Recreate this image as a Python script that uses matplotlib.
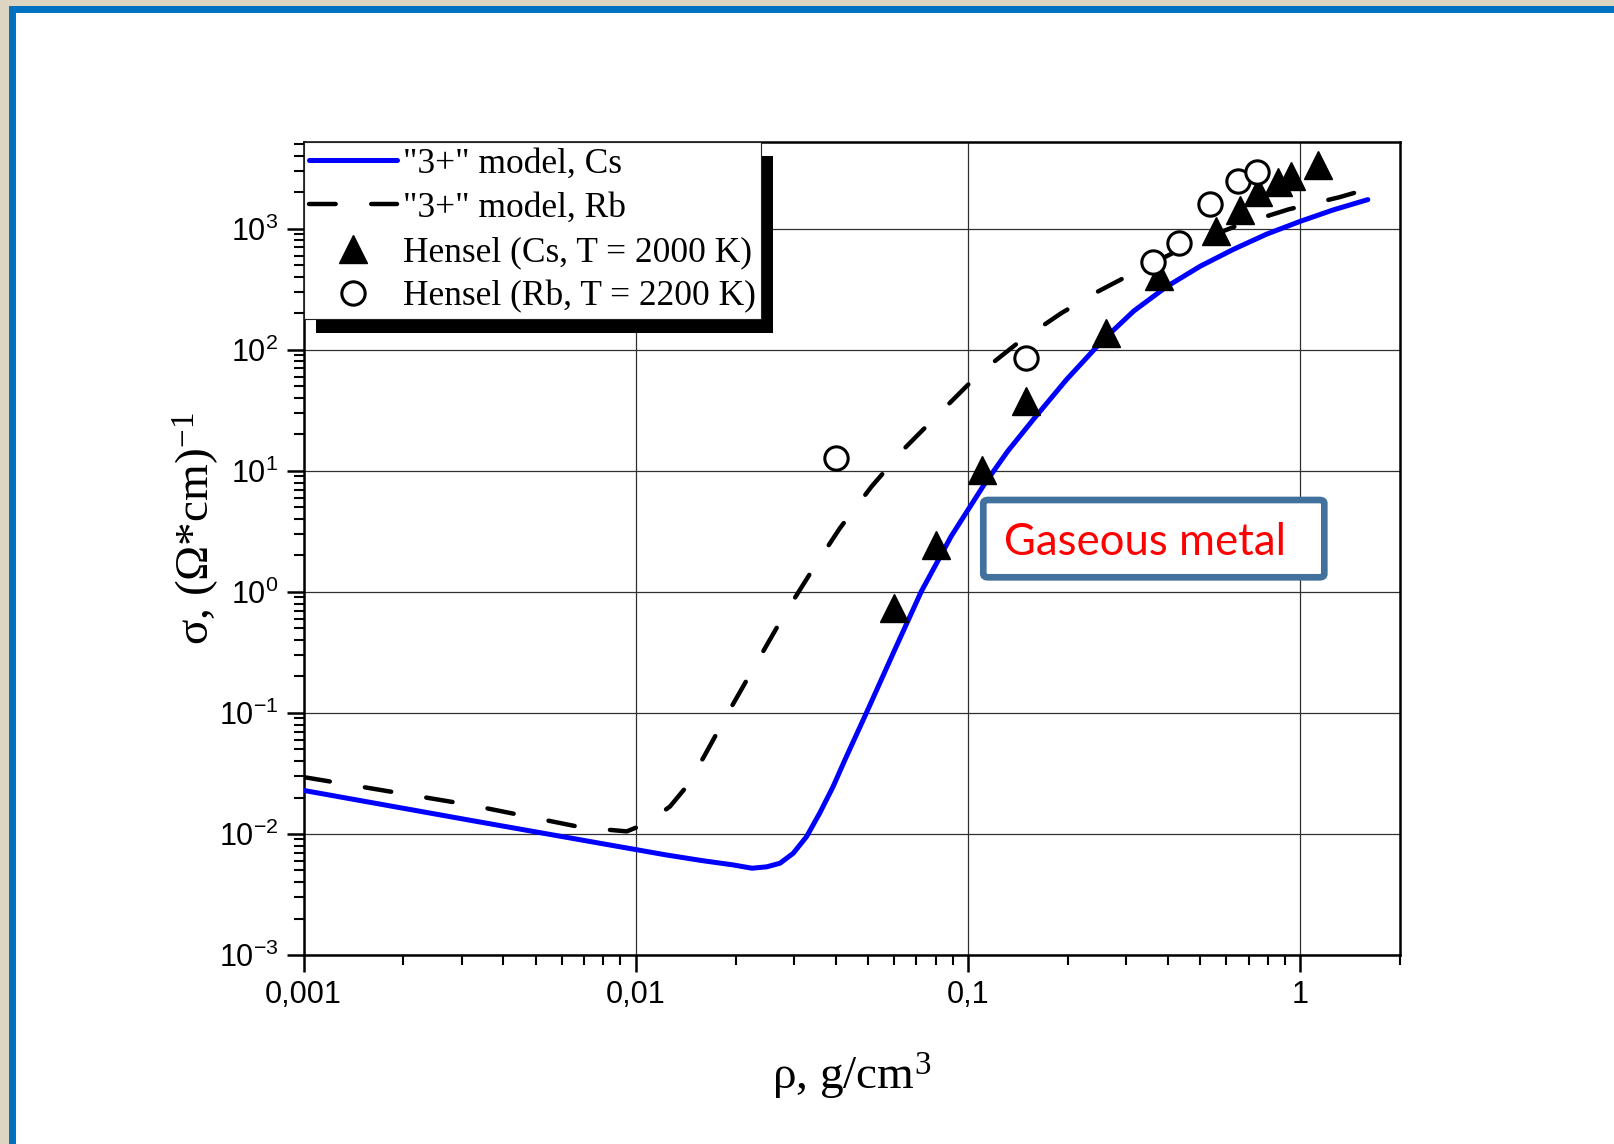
import numpy as np
import matplotlib
matplotlib.use("Agg")
import matplotlib.pyplot as plt
from matplotlib.patches import Rectangle, FancyBboxPatch
from matplotlib.ticker import FixedLocator, FixedFormatter, LogLocator, NullFormatter
from matplotlib.transforms import IdentityTransform

# "3+" model curves
cs_model_x = [0.001, 0.00316, 0.0078, 0.01239, 0.0158, 0.01963, 0.0224, 0.0248, 0.0272,
              0.0298, 0.0327, 0.0358, 0.0393, 0.0427, 0.0495, 0.0596, 0.0724, 0.0891,
              0.1122, 0.1318, 0.157, 0.198, 0.255, 0.316, 0.396, 0.501, 0.631, 0.794,
              1.0, 1.259, 1.60]
cs_model_y = [0.0229, 0.0130, 0.00838, 0.00670, 0.00603, 0.00555, 0.00521, 0.00535, 0.00573,
              0.00692, 0.00951, 0.01483, 0.0246, 0.0412, 0.100, 0.311, 1.005, 2.88,
              7.76, 14.5, 26.3, 56.5, 120, 209, 331, 490, 676, 902,
              1148, 1429, 1738]

rb_model_x = [0.001, 0.00316, 0.00689, 0.0094, 0.0108, 0.01268, 0.01422, 0.01596, 0.0192,
              0.0231, 0.0278, 0.0338, 0.0412, 0.0513, 0.0646, 0.0785, 0.1086, 0.1432,
              0.1914, 0.2466, 0.3289, 0.4764, 0.658, 0.925, 1.315, 1.47]
rb_model_y = [0.0295, 0.0174, 0.01132, 0.0105, 0.01225, 0.01683, 0.0246, 0.0423, 0.106,
              0.258, 0.625, 1.47, 3.36, 7.41, 15.4, 26.4, 64.1, 117,
              201, 303, 458, 762, 1079, 1445, 1820, 1990]

# Hensel experimental points
cs_exp_x = [0.0598, 0.0800, 0.110, 0.150, 0.260, 0.376, 0.560, 0.658, 0.746, 0.857, 0.940, 1.13]
cs_exp_y = [0.73, 2.44, 10.2, 37.6, 138, 404, 950, 1436, 1995, 2415, 2740, 3380]

rb_exp_x = [0.040, 0.150, 0.361, 0.432, 0.537, 0.650, 0.741]
rb_exp_y = [12.7, 85.5, 526, 762, 1610, 2460, 2920]

x_ticks = [0.001, 0.01, 0.1, 1]
x_tick_labels = ["0,001", "0,01", "0,1", "1"]
y_ticks = [1e-3, 1e-2, 1e-1, 1e0, 1e1, 1e2, 1e3]
y_tick_labels = [r"$\mathregular{10^{%d}}$" % p for p in range(-3, 4)]

labels = ['"3+" model, Cs', '"3+" model, Rb',
          "Hensel (Cs, T = 2000 K)", "Hensel (Rb, T = 2200 K)"]

W, H = 1614, 1144
fig = plt.figure(figsize=(W / 100, H / 100), dpi=100)
fig.patch.set_facecolor("#ddd5c1")

# slide frame: white page with blue border on left and top
fig.patches.append(Rectangle((11.5 / W, -0.05), 2.0, 1 - 8.5 / H + 0.05,
                             transform=fig.transFigure, facecolor="white",
                             edgecolor="#0070c0", linewidth=5, zorder=-10))

ax = fig.add_axes([303.5 / W, 1 - 955 / H, (1400 - 303.5) / W, (955 - 142) / H])
ax.set_xscale("log")
ax.set_yscale("log")

ax.plot(cs_model_x, cs_model_y, color="#0000ff", lw=3.6, solid_capstyle="round",
        solid_joinstyle="round", label=labels[0], zorder=3)
ax.plot(rb_model_x, rb_model_y, color="black", lw=3.2, dashes=(6, 8),
        dash_capstyle="round", label=labels[1], zorder=3)
ax.plot(cs_exp_x, cs_exp_y, ls="none", marker="^", ms=20, color="black",
        label=labels[2], zorder=4)
ax.plot(rb_exp_x, rb_exp_y, ls="none", marker="o", ms=16.8, mfc="white",
        mec="black", mew=2.2, label=labels[3], zorder=4.5)

ax.set_xlim(1e-3, 2)
ax.set_ylim(1e-3, 5.2e3)

ax.xaxis.set_major_locator(FixedLocator(x_ticks))
ax.xaxis.set_major_formatter(FixedFormatter(x_tick_labels))
ax.xaxis.set_minor_locator(LogLocator(base=10, subs=np.arange(2, 10), numticks=20))
ax.xaxis.set_minor_formatter(NullFormatter())
ax.yaxis.set_major_locator(FixedLocator(y_ticks))
ax.yaxis.set_major_formatter(FixedFormatter(y_tick_labels))
ax.yaxis.set_minor_locator(LogLocator(base=10, subs=np.arange(2, 10), numticks=20))
ax.yaxis.set_minor_formatter(NullFormatter())

ax.grid(True, which="major", color="#303030", lw=0.9)
ax.set_axisbelow(True)
for s in ax.spines.values():
    s.set_linewidth(1.8)
ax.tick_params(which="major", direction="out", length=12, width=1.8, pad=6)
ax.tick_params(which="minor", direction="out", length=7, width=1.5)
ax.tick_params(top=False, right=False)
for t in ax.get_xticklabels() + ax.get_yticklabels():
    t.set_fontfamily("Liberation Sans")
    t.set_fontsize(22)

leg = ax.legend(loc="upper left", bbox_to_anchor=(0, 1), borderaxespad=0,
                prop={"family": "Liberation Serif", "size": 25.5},
                handlelength=2.5, handletextpad=0.16, borderpad=0.15,
                labelspacing=0.32, fancybox=False, framealpha=1)
leg.get_frame().set_edgecolor("#222222")
leg.get_frame().set_linewidth(0.8)
leg.set_zorder(6)

# heavy black shadow behind the legend box
fig.canvas.draw()
bb = leg.get_window_extent(fig.canvas.get_renderer())
ax.add_artist(Rectangle((bb.x0 + 12, bb.y0 - 14), bb.width, bb.height,
                        transform=IdentityTransform(), facecolor="black",
                        edgecolor="none", zorder=5.9, clip_on=False))

fig.text(196 / W, 1 - 529 / H, r"σ, (Ω*cm)$\mathregular{^{-1}}$", rotation=90,
         ha="center", va="center", family="Liberation Serif", fontsize=34)
fig.text(852 / W, 1 - 1077 / H, r"ρ, g/cm$\mathregular{^{3}}$",
         ha="center", va="center", family="Liberation Serif", fontsize=34)

# "Gaseous metal" callout box
fig.patches.append(FancyBboxPatch((983.3 / W, 1 - 577.3 / H), 341 / W, 77.3 / H,
                                  boxstyle="round,pad=0,rounding_size=0.003",
                                  transform=fig.transFigure, facecolor="white",
                                  edgecolor="#41719c", linewidth=4.8, zorder=10))
fig.text(1145.5 / W, 1 - 555 / H, "Gaseous metal", ha="center", va="baseline",
         color="#ff0000", family="Lato", fontsize=31.5, zorder=11)

fig.savefig("out.png", dpi=100, facecolor=fig.get_facecolor())
